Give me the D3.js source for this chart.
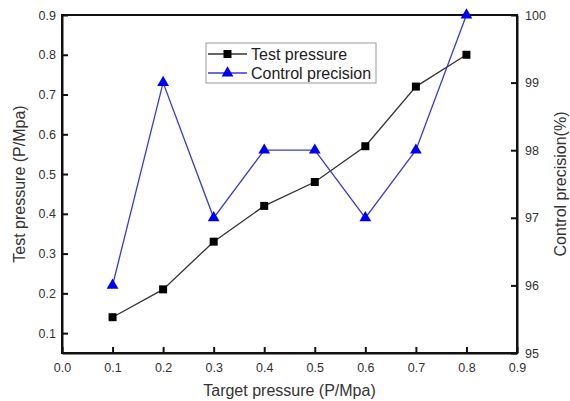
<!DOCTYPE html>
<html><head><meta charset="utf-8">
<script src="https://cdn.jsdelivr.net/npm/d3@7"></script>
<style>body{margin:0;background:#fff;} text{font-family:"Liberation Sans",Arial,sans-serif;}</style>
</head><body>
<svg id="c" width="570" height="401"></svg>
<script>
const targetPressure = [0.1,0.2,0.3,0.4,0.5,0.6,0.7,0.8];
const testPressure = [0.14,0.21,0.33,0.42,0.48,0.57,0.72,0.80];
const controlPrecision = [96,99,97,98,98,97,98,100];
const xTicks = [0,0.1,0.2,0.3,0.4,0.5,0.6,0.7,0.8,0.9];
const yLeftTicks = [0.1,0.2,0.3,0.4,0.5,0.6,0.7,0.8,0.9];
const yRightTicks = [95,96,97,98,99,100];

const svg = d3.select("#c");
const L=62,R=517,T=15,B=353;
const x = d3.scaleLinear().domain([0,0.9]).range([L,R]);
const yl = d3.scaleLinear().domain([0.05,0.9]).range([B,T]);
const yr = d3.scaleLinear().domain([95,100]).range([B,T]);
const tc="#333";

// frame
svg.append("rect").attr("x",L).attr("y",T).attr("width",R-L).attr("height",B-T)
  .attr("fill","none").attr("stroke","#111").attr("stroke-width",2);

// axes
const gx = svg.append("g").attr("transform",`translate(0,${B})`)
  .call(d3.axisBottom(x).tickValues(xTicks).tickFormat(d3.format(".1f")).tickSizeInner(-6).tickSizeOuter(0).tickPadding(10));
const gl = svg.append("g").attr("transform",`translate(${L},0)`)
  .call(d3.axisLeft(yl).tickValues(yLeftTicks).tickFormat(d3.format(".1f")).tickSizeInner(-6).tickSizeOuter(0).tickPadding(6));
const gr = svg.append("g").attr("transform",`translate(${R},0)`)
  .call(d3.axisRight(yr).tickValues(yRightTicks).tickFormat(d3.format("d")).tickSizeInner(-6).tickSizeOuter(0).tickPadding(8));
[gx,gl,gr].forEach(g=>{
  g.select(".domain").attr("stroke","#111").attr("stroke-width",2);
  g.selectAll(".tick line").attr("stroke","#111").attr("stroke-width",2);
  g.selectAll(".tick text").attr("font-size",12.5).attr("fill",tc).attr("font-family","Liberation Sans, Arial, sans-serif");
});

// titles
svg.append("text").attr("x",(L+R)/2).attr("y",396).attr("text-anchor","middle")
  .attr("font-size",16).attr("fill",tc).text("Target pressure (P/Mpa)");
svg.append("text").attr("transform",`translate(25,${(T+B)/2}) rotate(-90)`).attr("text-anchor","middle")
  .attr("font-size",16).attr("fill",tc).text("Test pressure (P/Mpa)");
svg.append("text").attr("transform",`translate(566,${(T+B)/2}) rotate(-90)`).attr("text-anchor","middle")
  .attr("font-size",16).attr("fill",tc).text("Control precision(%)");

// lines
const lineL = d3.line().x((d,i)=>x(targetPressure[i])).y(d=>yl(d));
const lineR = d3.line().x((d,i)=>x(targetPressure[i])).y(d=>yr(d));
svg.append("path").datum(testPressure).attr("d",lineL).attr("fill","none").attr("stroke","#333").attr("stroke-width",1.3);
svg.append("path").datum(controlPrecision).attr("d",lineR).attr("fill","none").attr("stroke","#3a3acc").attr("stroke-width",1.3);

const sq = d3.symbol().type(d3.symbolSquare).size(64);
const tri = d3.symbol().type(d3.symbolTriangle).size(60);
svg.selectAll(".sq").data(testPressure).join("path")
  .attr("transform",(d,i)=>`translate(${x(targetPressure[i])},${yl(d)})`).attr("d",sq).attr("fill","#000");
svg.selectAll(".tr").data(controlPrecision).join("path")
  .attr("transform",(d,i)=>`translate(${x(targetPressure[i])},${yr(d)})`).attr("d",tri).attr("fill","#0000ee");

// legend
const lg = svg.append("g");
lg.append("rect").attr("x",206).attr("y",43).attr("width",170).attr("height",40)
  .attr("fill","#fff").attr("stroke","#999").attr("stroke-width",1);
lg.append("line").attr("x1",208).attr("x2",247).attr("y1",54).attr("y2",54).attr("stroke","#333").attr("stroke-width",1.3);
lg.append("path").attr("transform","translate(227.5,54)").attr("d",sq).attr("fill","#000");
lg.append("line").attr("x1",208).attr("x2",247).attr("y1",73).attr("y2",73).attr("stroke","#3a3acc").attr("stroke-width",1.3);
lg.append("path").attr("transform","translate(227.5,73)").attr("d",tri).attr("fill","#0000ee");
lg.append("text").attr("x",251).attr("y",59.5).attr("font-size",16).attr("fill","#222").text("Test pressure");
lg.append("text").attr("x",251).attr("y",78.5).attr("font-size",16).attr("fill","#222").text("Control precision");
</script>
</body></html>
